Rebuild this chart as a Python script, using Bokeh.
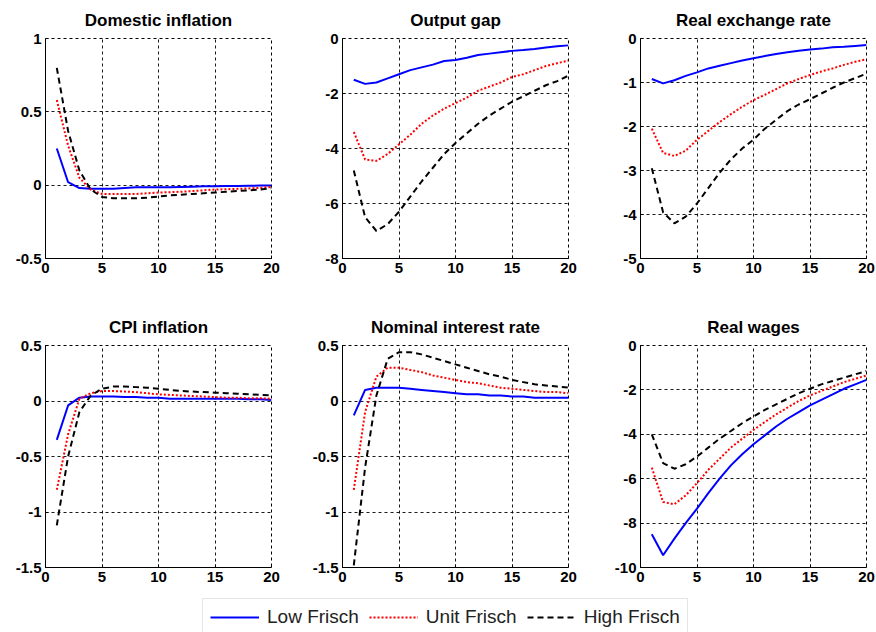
from bokeh.plotting import figure
from bokeh.layouts import column, row
from bokeh.models import Range1d, FixedTicker, Title, Legend, LegendItem
from bokeh.embed import file_html
from bokeh.resources import INLINE

# Impulse responses over 20 quarters under three Frisch elasticities
quarters = list(range(1, 21))
series_names = ["Low Frisch", "Unit Frisch", "High Frisch"]

dom_infl_low = [0.25, 0.02, -0.02, -0.025, -0.025, -0.025, -0.02, -0.015, -0.015, -0.015,
                -0.014, -0.012, -0.01, -0.008, -0.007, -0.006, -0.005, -0.004, -0.003, -0.003]
dom_infl_unit = [0.58, 0.27, 0.05, -0.03, -0.06, -0.06, -0.06, -0.06, -0.055, -0.05,
                 -0.048, -0.045, -0.04, -0.035, -0.03, -0.028, -0.025, -0.022, -0.018, -0.012]
dom_infl_high = [0.8, 0.37, 0.1, -0.03, -0.08, -0.09, -0.09, -0.09, -0.085, -0.078,
                 -0.07, -0.065, -0.06, -0.055, -0.05, -0.045, -0.04, -0.035, -0.03, -0.02]

output_gap_low = [-1.5, -1.65, -1.6, -1.45, -1.3, -1.15, -1.05, -0.95, -0.82, -0.78,
                  -0.7, -0.6, -0.55, -0.5, -0.45, -0.42, -0.38, -0.33, -0.28, -0.25]
output_gap_unit = [-3.4, -4.4, -4.45, -4.2, -3.85, -3.5, -3.1, -2.8, -2.55, -2.35,
                   -2.15, -1.9, -1.75, -1.6, -1.4, -1.3, -1.15, -1.0, -0.9, -0.8]
output_gap_high = [-4.8, -6.5, -7.0, -6.75, -6.3, -5.75, -5.2, -4.7, -4.2, -3.8,
                   -3.45, -3.1, -2.8, -2.55, -2.3, -2.1, -1.9, -1.7, -1.55, -1.35]

rer_low = [-0.92, -1.02, -0.95, -0.85, -0.77, -0.68, -0.62, -0.56, -0.5, -0.45,
           -0.4, -0.35, -0.31, -0.28, -0.25, -0.23, -0.2, -0.19, -0.17, -0.15]
rer_unit = [-2.05, -2.6, -2.67, -2.55, -2.3, -2.1, -1.9, -1.72, -1.55, -1.4,
            -1.28, -1.15, -1.02, -0.92, -0.83, -0.75, -0.68, -0.6, -0.53, -0.47]
rer_high = [-2.95, -3.95, -4.2, -4.05, -3.75, -3.4, -3.05, -2.75, -2.5, -2.3,
            -2.05, -1.85, -1.65, -1.5, -1.38, -1.25, -1.12, -1.0, -0.9, -0.8]

cpi_low = [-0.35, -0.04, 0.03, 0.04, 0.04, 0.04, 0.035, 0.035, 0.03, 0.03,
           0.02, 0.02, 0.02, 0.02, 0.02, 0.02, 0.02, 0.015, 0.015, 0.01]
cpi_unit = [-0.8, -0.3, 0.02, 0.07, 0.09, 0.09, 0.085, 0.08, 0.07, 0.06,
            0.055, 0.05, 0.045, 0.04, 0.035, 0.03, 0.03, 0.025, 0.025, 0.02]
cpi_high = [-1.12, -0.5, -0.1, 0.05, 0.11, 0.13, 0.13, 0.125, 0.12, 0.11,
            0.1, 0.09, 0.085, 0.08, 0.075, 0.07, 0.065, 0.06, 0.055, 0.05]

rate_low = [-0.13, 0.1, 0.12, 0.12, 0.12, 0.11, 0.1, 0.09, 0.08, 0.07,
            0.06, 0.06, 0.05, 0.05, 0.04, 0.04, 0.03, 0.03, 0.03, 0.03]
rate_unit = [-0.8, -0.1, 0.22, 0.3, 0.3, 0.28, 0.26, 0.23, 0.21, 0.19,
             0.17, 0.16, 0.14, 0.12, 0.11, 0.1, 0.09, 0.08, 0.08, 0.07]
rate_high = [-1.48, -0.6, 0.05, 0.38, 0.44, 0.44, 0.42, 0.39, 0.36, 0.33,
             0.3, 0.27, 0.24, 0.22, 0.19, 0.17, 0.15, 0.14, 0.13, 0.12]

wages_low = [-8.5, -9.45, -8.7, -8.0, -7.35, -6.65, -6.0, -5.4, -4.9, -4.45,
             -4.05, -3.65, -3.3, -3.0, -2.7, -2.45, -2.2, -1.95, -1.75, -1.55]
wages_unit = [-5.5, -7.05, -7.15, -6.75, -6.2, -5.6, -5.1, -4.6, -4.2, -3.8,
              -3.45, -3.1, -2.8, -2.5, -2.25, -2.05, -1.85, -1.65, -1.5, -1.35]
wages_high = [-4.0, -5.3, -5.55, -5.35, -5.0, -4.6, -4.2, -3.85, -3.5, -3.2,
              -2.9, -2.65, -2.4, -2.15, -1.95, -1.75, -1.6, -1.45, -1.3, -1.15]

titles = ["Domestic inflation", "Output gap", "Real exchange rate",
          "CPI inflation", "Nominal interest rate", "Real wages"]
x_ticks = [0, 5, 10, 15, 20]
y_ticks = [
    [-0.5, 0, 0.5, 1],
    [-8, -6, -4, -2, 0],
    [-5, -4, -3, -2, -1, 0],
    [-1.5, -1, -0.5, 0, 0.5],
    [-1.5, -1, -0.5, 0, 0.5],
    [-10, -8, -6, -4, -2, 0],
]
panel_series = [
    (dom_infl_low, dom_infl_unit, dom_infl_high),
    (output_gap_low, output_gap_unit, output_gap_high),
    (rer_low, rer_unit, rer_high),
    (cpi_low, cpi_unit, cpi_high),
    (rate_low, rate_unit, rate_high),
    (wages_low, wages_unit, wages_high),
]

line_styles = [
    dict(line_color="#0000ff", line_width=2),
    dict(line_color="#ff0000", line_width=2, line_dash="2 2"),
    dict(line_color="#000000", line_width=2, line_dash="6 4"),
]

TICK_FONT = "Liberation Sans"
# border sizes per column (left, right) and per row (top, bottom, frame height)
col_borders = [(45, 15), (56, 16), (56, 10)]
row_geom = [(38, 49, 220), (38, 23, 222)]


def tick_label(v):
    return str(int(v)) if float(v).is_integer() else str(v)


def make_panel(i):
    c, r = i % 3, i // 3
    left, right = col_borders[c]
    top, bottom, fh = row_geom[r]
    yt = y_ticks[i]
    p = figure(frame_width=226, frame_height=fh, output_backend="svg", toolbar_location=None,
               x_range=Range1d(0, 20), y_range=Range1d(yt[0], yt[-1]),
               min_border_left=left, min_border_right=right,
               min_border_top=top, min_border_bottom=bottom,
               background_fill_color="white", border_fill_color="white")
    p.title = Title(text=titles[i], align="center", text_font=TICK_FONT,
                    text_font_size="17px", text_font_style="bold", text_color="black",
                    standoff=17)
    # dashed box on top/right; the solid axes cover the left/bottom sides
    p.outline_line_color = "black"
    p.outline_line_dash = "3 3"
    p.outline_line_width = 1
    for k, ys in enumerate(panel_series[i]):
        p.line(quarters, ys, **line_styles[k])
    for ax in (p.xaxis[0], p.yaxis[0]):
        ax.axis_line_color = "black"
        ax.axis_line_width = 1
        ax.major_tick_out = 0
        ax.major_tick_in = 3
        ax.minor_tick_out = 0
        ax.minor_tick_in = 0
        ax.major_label_text_font = TICK_FONT
        ax.major_label_text_font_size = "15px"
        ax.major_label_text_font_style = "bold"
        ax.major_label_text_color = "black"
        ax.major_label_standoff = 4
    p.xaxis[0].ticker = FixedTicker(ticks=x_ticks)
    p.yaxis[0].ticker = FixedTicker(ticks=yt)
    p.xaxis[0].major_label_overrides = {t: tick_label(t) for t in x_ticks}
    p.yaxis[0].major_label_overrides = {t: tick_label(t) for t in yt}
    for g in (p.xgrid[0], p.ygrid[0]):
        g.grid_line_color = "black"
        g.grid_line_dash = "3 3"
        g.grid_line_width = 1
        g.grid_line_alpha = 0.9
    return p


panels = [make_panel(i) for i in range(6)]

# legend strip underneath the panels; its sample lines sit outside the visible range
leg = figure(width=876, height=42, output_backend="svg", toolbar_location=None,
             x_range=Range1d(0, 876), y_range=Range1d(0, 42),
             min_border=0, outline_line_color=None)
leg.axis.visible = False
leg.grid.visible = False
items = []
for k, name in enumerate(series_names):
    rnd = leg.line([-20, -10], [-20, -20], **line_styles[k])
    items.append(LegendItem(label=name, renderers=[rnd]))
legend = Legend(items=items, orientation="horizontal", location=(202, -4),
                label_text_font="Liberation Sans", label_text_font_size="19px",
                label_text_color="#222222", glyph_width=49, glyph_height=20,
                label_standoff=8, spacing=10, padding=7, margin=0,
                border_line_color="#cccccc", border_line_width=1,
                background_fill_color="white", background_fill_alpha=1)
leg.add_layout(legend, "center")

layout = column(row(*panels[:3]), row(*panels[3:]), leg)

open("out.html", "w").write(file_html(layout, INLINE))
